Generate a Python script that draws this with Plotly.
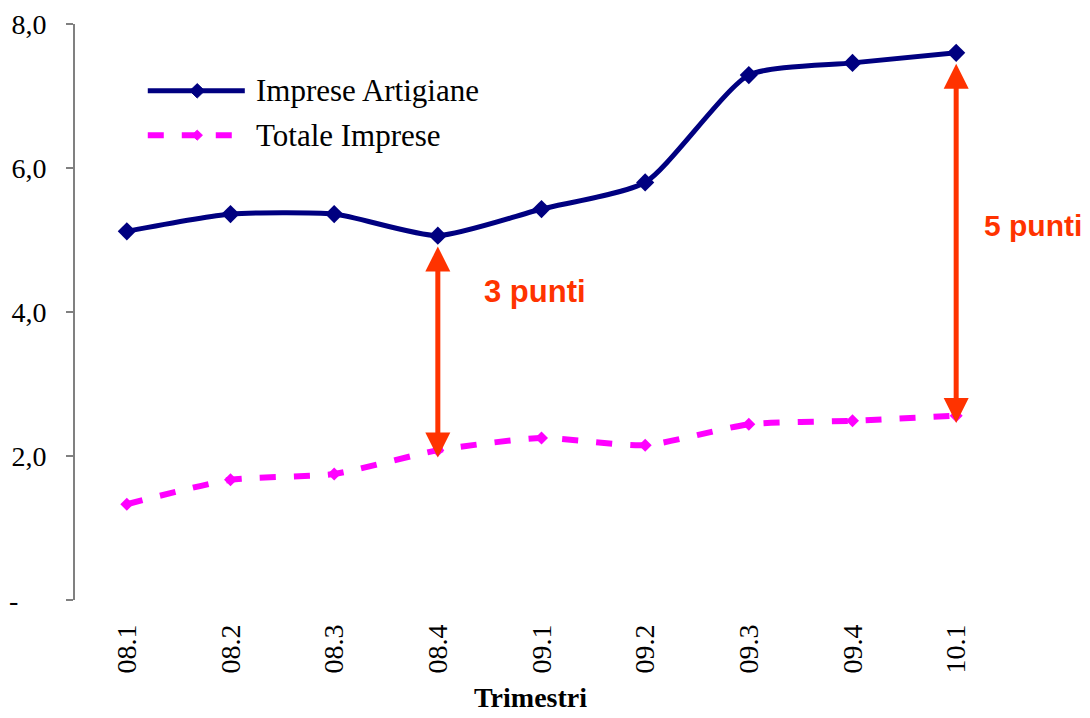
import plotly.graph_objects as go

categories = ["08.1", "08.2", "08.3", "08.4", "09.1", "09.2", "09.3", "09.4", "10.1"]
artigiane = [5.12, 5.36, 5.36, 5.06, 5.43, 5.80, 7.29, 7.46, 7.60]
totale = [1.33, 1.67, 1.75, 2.08, 2.25, 2.15, 2.44, 2.49, 2.56]
y_ticks = [0, 2, 4, 6, 8]
y_tick_labels = ["-\u00a0\u00a0\u00a0\u00a0", "2,0", "4,0", "6,0", "8,0"]

SERIF = "Liberation Serif, Times New Roman, serif"
SANS = "Liberation Sans, Arial, sans-serif"
ARROW = "#FF3300"
NAVY = "#000080"
MAGENTA = "#FF00FF"

fig = go.Figure()
fig.add_trace(go.Scatter(
    x=categories, y=artigiane, name="Imprese Artigiane", showlegend=False,
    mode="lines+markers", line=dict(color=NAVY, width=5, shape="spline", smoothing=0.6),
    marker=dict(symbol="diamond", size=14, color=NAVY),
))
fig.add_trace(go.Scatter(
    x=categories, y=totale, name="Totale Imprese", showlegend=False,
    mode="lines+markers",
    line=dict(color=MAGENTA, width=6, dash="16px,18px", shape="spline", smoothing=0.6),
    marker=dict(symbol="diamond", size=10, color=MAGENTA),
))

# double-headed arrows showing the gap
for idx in [3, 8]:
    top = artigiane[idx] - 0.13
    bot = totale[idx] - 0.1
    fig.add_annotation(x=idx, y=bot, ax=idx, ay=top, xref="x", yref="y", axref="x", ayref="y",
                       showarrow=True, arrowhead=2, arrowside="end+start", arrowsize=1.0,
                       arrowwidth=5, arrowcolor=ARROW, text="", standoff=0, startstandoff=0)
fig.add_annotation(x=3.94, y=4.28, xref="x", yref="y", text="<b>3 punti</b>", showarrow=False,
                   xanchor="center", yanchor="middle",
                   font=dict(family=SANS, size=31, color=ARROW))
fig.add_annotation(x=1.027, y=0.651, xref="paper", yref="paper", text="<b>5 punti</b>",
                   showarrow=False, xanchor="center", yanchor="middle",
                   font=dict(family=SANS, size=30, color=ARROW))

# axis title
fig.add_annotation(x=0.4877, y=-0.170, xref="paper", yref="paper", text="<b>Trimestri</b>",
                   showarrow=False, xanchor="center", yanchor="middle",
                   font=dict(family=SERIF, size=28, color="black"))

# manual legend (paper coordinates)
leg_x0, leg_x1, leg_xm, leg_tx = 0.078, 0.182, 0.131, 0.192
row1, row2 = 0.884, 0.807
fig.add_shape(type="line", xref="paper", yref="paper", x0=leg_x0, x1=leg_x1, y0=row1, y1=row1,
              line=dict(color=NAVY, width=5))
fig.add_shape(type="line", xref="paper", yref="paper", x0=leg_x0, x1=leg_x1, y0=row2, y1=row2,
              line=dict(color=MAGENTA, width=6, dash="16px,18px"))
dx, dy = 0.0080, 0.0125
for yy, col, s in [(row1, NAVY, 1.0), (row2, MAGENTA, 0.7)]:
    fig.add_shape(type="path", xref="paper", yref="paper",
                  path="M %f,%f L %f,%f L %f,%f L %f,%f Z" % (
                      leg_xm - dx * s, yy, leg_xm, yy + dy * s, leg_xm + dx * s, yy, leg_xm, yy - dy * s),
                  fillcolor=col, line=dict(color=col, width=1))
fig.add_annotation(x=leg_tx, y=row1, xref="paper", yref="paper", text="Imprese Artigiane",
                   showarrow=False, xanchor="left", yanchor="middle",
                   font=dict(family=SERIF, size=31, color="black"))
fig.add_annotation(x=leg_tx, y=row2, xref="paper", yref="paper", text="Totale Imprese",
                   showarrow=False, xanchor="left", yanchor="middle",
                   font=dict(family=SERIF, size=31, color="black"))

fig.update_layout(
    width=1082, height=710,
    margin=dict(l=67, r=82, t=16, b=118, autoexpand=False),
    plot_bgcolor="white", paper_bgcolor="white",
    font=dict(family=SERIF, color="black", size=26),
    showlegend=False,
    xaxis=dict(type="category", tickangle=-90, showline=False, ticks="", showgrid=False,
               automargin=False,
               tickfont=dict(family=SERIF, size=28), ticklabelstandoff=18,
               range=[-0.5, 8.5]),
    yaxis=dict(range=[0, 8], tickvals=y_ticks, ticktext=y_tick_labels, showgrid=False,
               automargin=False,
               showline=True, linecolor="#808080", linewidth=2, ticks="outside", ticklen=7,
               tickcolor="#808080", tickwidth=1.5, tickfont=dict(family=SERIF, size=28), zeroline=False,
               ticklabelstandoff=14),
)

fig.write_html("out.html")
